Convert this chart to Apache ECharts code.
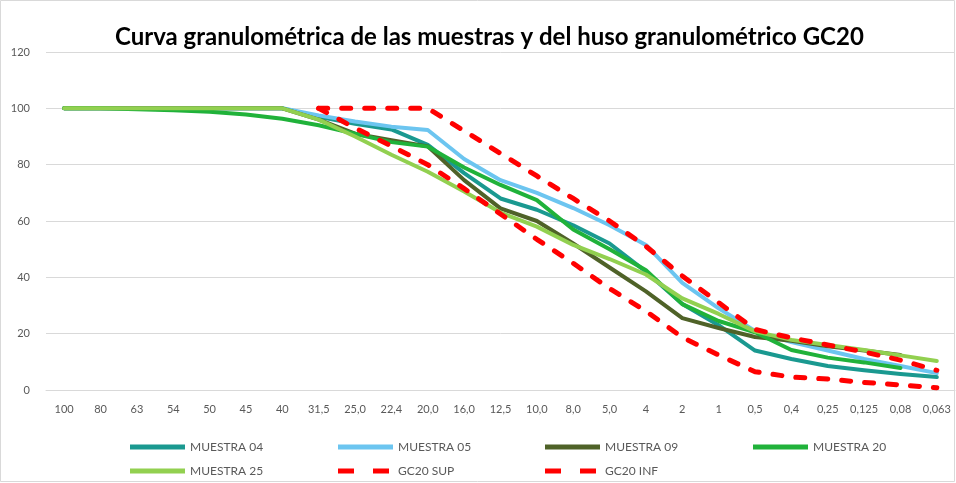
<!DOCTYPE html>
<html>
<head>
<meta charset="utf-8">
<script src="https://cdn.jsdelivr.net/npm/echarts@6/dist/echarts.min.js"></script>
<style>
html,body{margin:0;padding:0;background:#fff;}
#c{width:956px;height:483px;}
</style>
</head>
<body>
<div id="c"></div>
<script>
const categories = ['100','80','63','54','50','45','40','31,5','25,0','22,4','20,0','16,0','12,5','10,0','8,0','5,0','4','2','1','0,5','0,4','0,25','0,125','0,08','0,063'];
const yTicks = [0, 20, 40, 60, 80, 100, 120];

const muestra04 = [100,100,100,100,100,100,100,97,94.5,92.5,87,77,68,64,58.5,52,42,30.5,23,14,11,8.5,7,5.7,4.6];
const muestra05 = [100,100,100,100,100,100,100,97.5,95.3,93.5,92.3,82,74.5,70,64.6,58.5,51.5,38,29,21,17,14,11,8.5,6];
const muestra09 = [100,100,100,100,100,100,100,96,91,88.7,86.5,74.5,64.5,60,52,43.5,35,25.5,22,18.8,17.5,15.5,14,12.4,null];
const muestra20 = [100,100,99.7,99.3,98.8,97.8,96.3,94,91,88,86.4,79,72.8,67.4,57,50,42.5,30.5,24.5,20.5,14.2,11.5,9.8,7.8,null];
const muestra25 = [100,100,100,100,100,100,100,96,90,83.5,77.5,70.5,63,58,51.5,46.5,41,32.5,27,20.8,17.8,16,14.2,12.3,10.3];
const gc20Sup = [null,null,null,null,null,null,null,100,100,100,100,92,84,76,68,60,51,40.5,31,21.5,18.5,16,13.5,10.6,7];
const gc20Inf = [null,null,null,null,null,null,null,100,93,86.6,80,71.5,62.5,53.5,45,36,28,18.7,12.4,6.5,4.6,3.9,2.7,1.8,0.8];

const seriesDefs = [
  {name:'MUESTRA 04', data:muestra04, color:'#1a9990', dashed:false},
  {name:'MUESTRA 05', data:muestra05, color:'#6cc5f0', dashed:false},
  {name:'MUESTRA 09', data:muestra09, color:'#4f6228', dashed:false},
  {name:'MUESTRA 20', data:muestra20, color:'#20b23a', dashed:false},
  {name:'MUESTRA 25', data:muestra25, color:'#92d050', dashed:false},
  {name:'GC20 SUP', data:gc20Sup, color:'#ff0000', dashed:true},
  {name:'GC20 INF', data:gc20Inf, color:'#ff0000', dashed:true}
];

const legendPos = [
  [130,441],[338,441],[545,441],[753,441],
  [130,465],[338,465],[545,465]
];

const solidIcon = 'path://M0,0H55V5H0Z';
const dashIcon = 'path://M0,0H16V5H0Z M35,0H51V5H35Z M55,0H55V5H55Z';

const chart = echarts.init(document.getElementById('c'), null, {renderer:'canvas'});
const FONT = 'Lato';

const option = {
  backgroundColor:'#ffffff',
  animation:false,
  title:{
    text:'Curva granulométrica de las muestras y del huso granulométrico GC20',
    left:110, top:20,
    textStyle:{fontFamily:FONT, fontWeight:'bold', fontSize:24, color:'#000000'}
  },
  graphic:[{
    type:'rect', shape:{x:0.5,y:0.5,width:954,height:481},
    style:{fill:null, stroke:'#d9d9d9', lineWidth:1}, silent:true, z:-10
  }],
  legend: seriesDefs.map((s,i)=>({
    data:[{name:s.name, icon: s.dashed ? dashIcon : solidIcon}],
    left:legendPos[i][0], top:legendPos[i][1],
    padding:0,
    itemWidth:55, itemHeight:5, itemGap:4,
    textStyle:{fontFamily:FONT, fontSize:12, color:'#595959'},
    selectedMode:false
  })),
  grid:{left:46, right:1, top:52, bottom:93, containLabel:false},
  xAxis:{
    type:'category', data:categories, boundaryGap:true,
    axisLine:{show:true, lineStyle:{color:'#d9d9d9', width:1}},
    axisTick:{show:false},
    axisLabel:{fontFamily:FONT, fontSize:11, color:'#595959', margin:14, interval:0}
  },
  yAxis:{
    type:'value', min:yTicks[0], max:yTicks[yTicks.length-1], interval:20,
    axisLine:{show:false}, axisTick:{show:false},
    axisLabel:{fontFamily:FONT, fontSize:11, color:'#595959', margin:16},
    splitLine:{show:true, lineStyle:{color:'#d9d9d9', width:1}}
  },
  series: seriesDefs.map(s=>({
    name:s.name, type:'line', data:s.data, symbol:'none', smooth:false,
    connectNulls:false,
    lineStyle: s.dashed
      ? {color:s.color, width:5, type:[9,14], cap:'round', join:'round'}
      : {color:s.color, width:4, cap:'round', join:'round'},
    itemStyle:{color:s.color}
  }))
};
chart.setOption(option);
</script>
</body>
</html>
